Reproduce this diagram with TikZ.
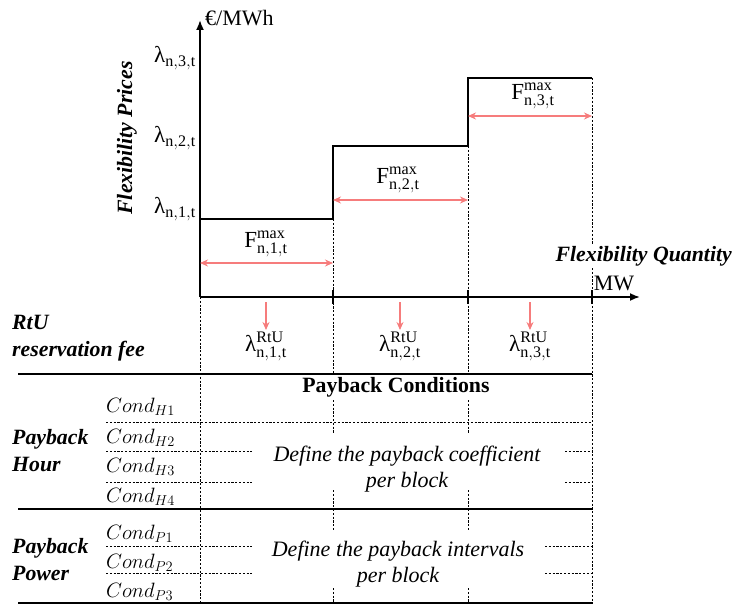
\documentclass[tikz,border=0pt]{standalone}
\usepackage{fontspec}
\setmainfont{Liberation Serif}
\usetikzlibrary{arrows.meta}
\definecolor{arrred}{RGB}{246,124,124}
\newcommand\lamb[1]{λ$_{\mathrm{#1}}$}
\newcommand\lambrtu[1]{λ$^{\mathrm{RtU}}_{\mathrm{#1}}$}
\newcommand\fmax[1]{F$^{\mathrm{max}}_{\mathrm{#1}}$}
\begin{document}
\begin{tikzpicture}[x=1pt,y=-1pt,
  axis/.style={line width=1.8pt},
  stepline/.style={line width=2.4pt},
  guide/.style={line width=0.6pt, dash pattern=on 2.2pt off 1.6pt},
  rule/.style={line width=1.5pt},
  redarr/.style={arrred, line width=1.1pt, -{Stealth[length=8pt,width=7pt]}},
  dbl/.style={arrred, line width=1.1pt, {Stealth[length=8pt,width=7pt]}-{Stealth[length=8pt,width=7pt]}},
  lbl/.style={inner sep=0pt, font=\fontsize{23}{25}\selectfont},
  unitlbl/.style={inner sep=0pt, font=\fontsize{22}{24}\selectfont},
  bi/.style={inner sep=0pt, font=\fontsize{21.8}{27}\selectfont\bfseries\itshape, align=left},
  itl/.style={inner sep=0pt, font=\fontsize{22}{26}\selectfont\itshape, align=center},
  cond/.style={inner sep=0pt, anchor=west, font=\fontsize{22.5}{24}\selectfont}]
\useasboundingbox (0,0) rectangle (735,604);
% steps
\coordinate (s0) at (200,219);
\coordinate (s1) at (333,219);
\coordinate (s2) at (333,146);
\coordinate (s3) at (468,146);
\coordinate (s4) at (468,78);
\coordinate (s5) at (592,78);
% guides
\draw[guide] (200,297) -- (200,604);
\draw[guide] (s1) -- (333,374);
\draw[guide] (s3) -- (468,374);
\draw[guide] (s5) -- (592,604);
\foreach \x in {333,468} {
  \draw[guide] (\x,400) -- (\x,434);
  \draw[guide] (\x,490) -- (\x,530);
  \draw[guide] (\x,588) -- (\x,604);
}
% axes
\coordinate (O) at (200,297);
\coordinate (ytop) at (200,20);
\coordinate (xend) at (640,297);
\node[unitlbl, anchor=west] (unit) at (205,18) {€/MWh};
\node[unitlbl, fill=white, inner sep=1pt] (mw) at (614,283) {MW};
\node[bi, anchor=east, fill=white, inner sep=1pt] (fq) at (733,256) {Flexibility Quantity};
\draw[axis,-{Latex[length=10pt,width=8pt]}] (O) -- (ytop);
\draw[axis,-{Latex[length=10pt,width=8pt]}] (O) -- (xend);
\node[bi, rotate=90] (fp) at (127,138) {Flexibility Prices};
% price labels
\node[lbl, anchor=east] (l3) at (196,58) {\lamb{n,3,t}};
\node[lbl, anchor=east] (l2) at (196,138) {\lamb{n,2,t}};
\node[lbl, anchor=east] (l1) at (196,209) {\lamb{n,1,t}};
\draw[stepline] (s0) -- (s1) -- (s2) -- (s3) -- (s4) -- (s5);
% ticks
\foreach \x in {333,468,592} \draw[line width=1.3pt] (\x,290) -- (\x,304);
% F max
\node[lbl] (f1) at (266,244) {\fmax{n,1,t}};
\node[lbl] (f2) at (398,180) {\fmax{n,2,t}};
\node[lbl] (f3) at (533,96) {\fmax{n,3,t}};
\coordinate (a1l) at (200,263); \coordinate (a1r) at (333,263);
\coordinate (a2l) at (333,200); \coordinate (a2r) at (468,200);
\coordinate (a3l) at (468,116); \coordinate (a3r) at (592,116);
\draw[dbl] (a1l) -- (a1r);
\draw[dbl] (a2l) -- (a2r);
\draw[dbl] (a3l) -- (a3r);
% RtU row
\node[bi, anchor=west] (rtu) at (12,338) {RtU\\reservation fee};
\node[lbl] (r1) at (266,346) {\lambrtu{n,1,t}};
\node[lbl] (r2) at (400,346) {\lambrtu{n,2,t}};
\node[lbl] (r3) at (530,346) {\lambrtu{n,3,t}};
\foreach \i/\x in {1/266,2/400,3/530} {
  \coordinate (d\i) at (\x,302);
  \draw[redarr] (d\i) -- (\x,330);
}
% table rules
\draw[rule] (18,374) -- (592,374);
\draw[rule] (18,509) -- (592,509);
\draw[rule] (18,603) -- (592,603);
\node[inner sep=0pt, font=\fontsize{21.8}{24}\selectfont\bfseries] (pc) at (396,387) {Payback Conditions};
% payback hour
\node[bi, anchor=west] (ph) at (12,451) {Payback\\Hour};
\node[cond] (h1) at (106,407) {$Cond_{H1}$};
\node[cond] (h2) at (106,438) {$Cond_{H2}$};
\node[cond] (h3) at (106,467) {$Cond_{H3}$};
\node[cond] (h4) at (106,497) {$Cond_{H4}$};
\draw[guide] (106,422) -- (592,422);
\draw[guide] (106,451) -- (252,451); \draw[guide] (565,451) -- (592,451);
\draw[guide] (106,482) -- (252,482); \draw[guide] (565,482) -- (592,482);
\node[itl] (dc) at (407,469) {Define the payback coefficient\\per block};
% payback power
\node[bi, anchor=west] (pp) at (12,560) {Payback\\Power};
\node[cond] (p1) at (106,534) {$Cond_{P1}$};
\node[cond] (p2) at (106,563) {$Cond_{P2}$};
\node[cond] (p3) at (106,592) {$Cond_{P3}$};
\draw[guide] (106,546) -- (252,546); \draw[guide] (545,546) -- (592,546);
\draw[guide] (106,573) -- (252,573); \draw[guide] (545,573) -- (592,573);
\node[itl] (di) at (398,564) {Define the payback intervals\\per block};
\end{tikzpicture}
\end{document}
